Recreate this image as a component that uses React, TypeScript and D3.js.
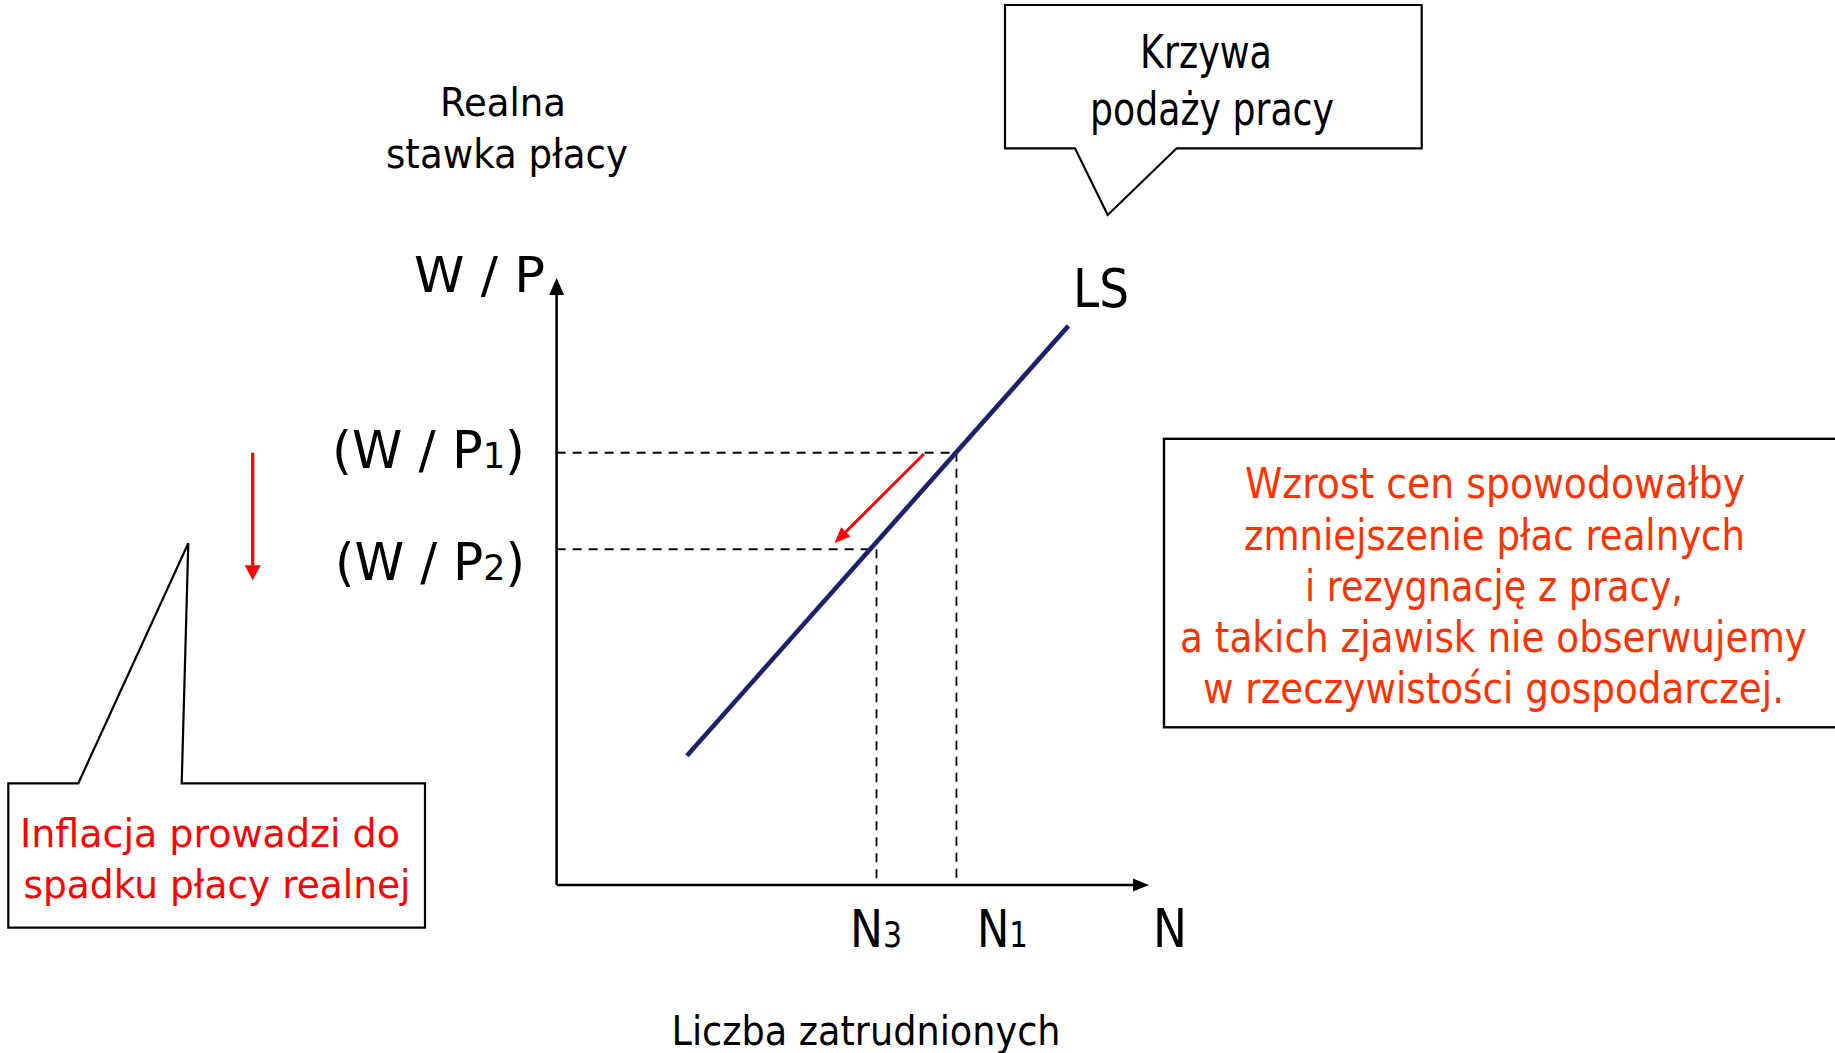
import React from 'react';
import * as d3 from 'd3';

// labour supply curve LS (N = employment, W = real wage), both in 0..100 units
const lsCurve = [
  { n: 22, w: 21.3 },
  { n: 86.4, w: 92.1 },
];

// equilibrium points before and after the price rise
const equilibria = [
  { n: 67.5, w: 71.2, wage: '1', emp: '1' },
  { n: 54, w: 55.3, wage: '2', emp: '3' },
];

// red arrow along the curve
const shift = [
  { n: 62, w: 71 },
  { n: 46.9, w: 56.3 },
];

// red arrow on the left: real wage falling
const wageDrop = [71.2, 50.2];

const yTitle = ['Realna', 'stawka płacy'];
const xTitle = ['Liczba zatrudnionych'];
const supplyNote = ['Krzywa', 'podaży pracy'];
const inflationNote = ['Inflacja prowadzi do', 'spadku płacy realnej'];
const criticNote = [
  'Wzrost cen spowodowałby',
  'zmniejszenie płac realnych',
  'i rezygnację z pracy,',
  'a takich zjawisk nie obserwujemy',
  'w rzeczywistości gospodarczej.',
];

const FONT = "'DejaVu Sans', Verdana, sans-serif";

const head = (x1: number, y1: number, x2: number, y2: number, len: number, wid: number) => {
  const a = Math.atan2(y2 - y1, x2 - x1);
  const bx = x2 - len * Math.cos(a);
  const by = y2 - len * Math.sin(a);
  const px = (wid / 2) * Math.sin(a);
  const py = (wid / 2) * Math.cos(a);
  return {
    base: [bx, by],
    points: `${x2},${y2} ${bx + px},${by - py} ${bx - px},${by + py}`,
  };
};

const Arrow = ({ x1, y1, x2, y2, color, width, len, wid }: any) => {
  const h = head(x1, y1, x2, y2, len, wid);
  return (
    <g>
      <line x1={x1} y1={y1} x2={h.base[0]} y2={h.base[1]} stroke={color} strokeWidth={width} />
      <polygon points={h.points} fill={color} />
    </g>
  );
};

const Label = ({ x, y, size, len, fill = '#000', children }: any) => (
  <text
    x={x}
    y={y}
    fontSize={size}
    textLength={len}
    lengthAdjust="spacingAndGlyphs"
    fill={fill}
    fontFamily={FONT}
  >
    {children}
  </text>
);

export default function App() {
  const W = 1835;
  const H = 1053;

  const x = d3.scaleLinear().domain([0, 100]).range([556.6, 1149]);
  const y = d3.scaleLinear().domain([0, 100]).range([885, 277.9]);

  const line = d3
    .line<{ n: number; w: number }>()
    .x((d) => x(d.n))
    .y((d) => y(d.w));

  // text sizes / widths measured from the slide
  const wageLabel = [
    { x: 332, base: 468.3, len: 193 },
    { x: 335, base: 580, len: 190 },
  ];
  const empLabel = [
    { x: 977, len: 51 },
    { x: 850, len: 52 },
  ];
  const criticLayout = [
    { x: 1245, len: 500 },
    { x: 1244, len: 501 },
    { x: 1305, len: 378 },
    { x: 1180, len: 627 },
    { x: 1203, len: 581 },
  ];

  const topBubble = `M1005,5 H1421.7 V148.3 H1176.7 L1107.7,215 L1075,148.3 H1005 Z`;
  const leftBubble = `M8.3,783.3 H78.3 L188.3,543.3 L181.7,783.3 H425 V927.7 H8.3 Z`;

  return (
    <svg
      width={W}
      height={H}
      style={{ position: 'absolute', left: 0, top: 0, background: '#fff' }}
    >
      <rect width={W} height={H} fill="#fff" />

      {/* axes */}
      <Arrow x1={x(0)} y1={y(0)} x2={x(0)} y2={y(100)} color="#000" width={2.6} len={17} wid={15} />
      <Arrow x1={x(0)} y1={y(0)} x2={x(100)} y2={y(0)} color="#000" width={2.6} len={16} wid={13} />

      {/* dashed guides */}
      {equilibria.map((d, i) => (
        <g key={i} stroke="#000" strokeWidth={1.8} strokeDasharray="9,7" fill="none">
          <line x1={x(0)} y1={y(d.w)} x2={x(d.n)} y2={y(d.w)} />
          <line x1={x(d.n)} y1={y(d.w)} x2={x(d.n)} y2={y(0) - 3} />
        </g>
      ))}

      {/* LS curve */}
      <path d={line(lsCurve) as string} stroke="#20206a" strokeWidth={4.6} fill="none" />

      {/* shift arrow along LS */}
      <Arrow
        x1={x(shift[0].n)}
        y1={y(shift[0].w)}
        x2={x(shift[1].n)}
        y2={y(shift[1].w)}
        color="#ff0000"
        width={3}
        len={16}
        wid={13}
      />

      {/* wage drop arrow */}
      <Arrow x1={252.7} y1={y(wageDrop[0])} x2={252.7} y2={y(wageDrop[1])} color="#ff0000" width={3.3} len={15} wid={16} />

      {/* axis labels */}
      <Label x={414} y={291.7} size={50.3} len={131}>W / P</Label>
      {equilibria.map((d, i) => (
        <Label key={'w' + i} x={wageLabel[i].x} y={wageLabel[i].base} size={52} len={wageLabel[i].len}>
          (W / P<tspan fontSize={36}>{d.wage}</tspan>)
        </Label>
      ))}
      {equilibria.map((d, i) => (
        <Label key={'n' + i} x={empLabel[i].x} y={946.7} size={51.5} len={empLabel[i].len}>
          N<tspan fontSize={35}>{d.emp}</tspan>
        </Label>
      ))}
      <Label x={1153} y={946.7} size={52.6} len={34}>N</Label>
      <Label x={1073} y={307.3} size={53.4} len={56}>LS</Label>

      <Label x={440} y={116} size={39.5} len={126}>{yTitle[0]}</Label>
      <Label x={386} y={168} size={40.5} len={242}>{yTitle[1]}</Label>
      <Label x={671.5} y={1045} size={41} len={389}>{xTitle[0]}</Label>

      {/* callout: supply curve */}
      <path d={topBubble} fill="#fff" stroke="#000" strokeWidth={2.2} />
      <Label x={1140} y={68.3} size={45.7} len={132}>{supplyNote[0]}</Label>
      <Label x={1090} y={124.5} size={45.7} len={244}>{supplyNote[1]}</Label>

      {/* callout: inflation */}
      <path d={leftBubble} fill="#fff" stroke="#000" strokeWidth={2.2} />
      <Label x={20} y={846.7} size={38.8} len={380} fill="#ff0000">{inflationNote[0]}</Label>
      <Label x={23.5} y={898.3} size={38.8} len={387} fill="#ff0000">{inflationNote[1]}</Label>

      {/* comment box */}
      <rect x={1164} y={438.8} width={700} height={288.5} fill="#fff" stroke="#000" strokeWidth={2.4} />
      {criticNote.map((t, i) => (
        <Label
          key={'c' + i}
          x={criticLayout[i].x}
          y={498.3 + i * 51.25}
          size={43.4}
          len={criticLayout[i].len}
          fill="#ff3300"
        >
          {t}
        </Label>
      ))}
    </svg>
  );
}
